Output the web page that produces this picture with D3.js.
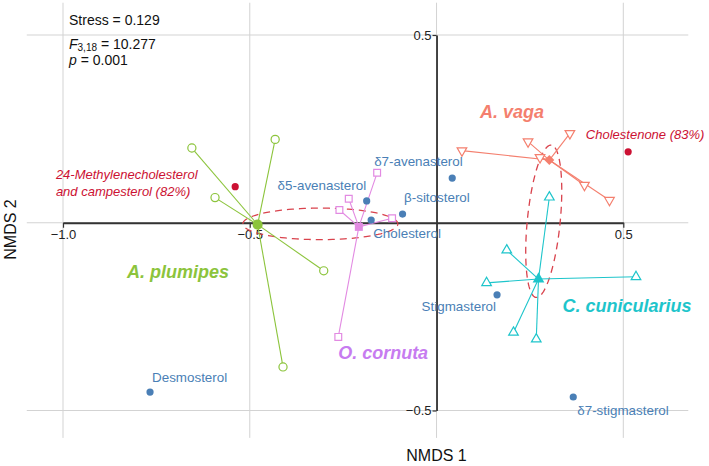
<!DOCTYPE html>
<html><head><meta charset="utf-8">
<script src="https://cdn.jsdelivr.net/npm/d3@7"></script>
<style>
body{margin:0;background:#fff}
svg{display:block;font-family:"Liberation Sans",Arial,Helvetica,sans-serif}
</style>
</head><body>
<svg id="chart" width="709" height="466"></svg>
<script>
// ---------------- data ----------------
const groups = ["A. plumipes", "O. cornuta", "A. vaga", "C. cunicularius"];

const plumipesNMDS1 = [-0.655, -0.432, -0.593, -0.302, -0.411];
const plumipesNMDS2 = [0.199, 0.222, 0.067, -0.128, -0.384];

const cornutaNMDS1 = [-0.159, -0.235, -0.260, -0.119, -0.263];
const cornutaNMDS2 = [0.133, 0.064, 0.034, 0.012, -0.304];

const vagaNMDS1 = [0.068, 0.245, 0.357, 0.277, 0.396, 0.463];
const vagaNMDS2 = [0.192, 0.216, 0.238, 0.174, 0.100, 0.060];

const cunicNMDS1 = [0.302, 0.188, 0.134, 0.534, 0.206, 0.267];
const cunicNMDS2 = [0.068, -0.073, -0.160, -0.144, -0.292, -0.310];

const centroidNMDS1 = [-0.479, -0.208, 0.302, 0.273];
const centroidNMDS2 = [-0.005, -0.011, 0.167, -0.150];

const sterols = ["δ5-avenasterol", "Cholesterol", "β-sitosterol", "δ7-avenasterol",
                 "Stigmasterol", "Desmosterol", "δ7-stigmasterol"];
const sterolNMDS1 = [-0.187, -0.175, -0.091, 0.042, 0.162, -0.767, 0.366];
const sterolNMDS2 = [0.058, 0.007, 0.023, 0.119, -0.192, -0.451, -0.464];

const indicators = [["24-Methylenecholesterol", "and campesterol (82%)"], ["Cholestenone (83%)"]];
const indicatorNMDS1 = [-0.539, 0.513];
const indicatorNMDS2 = [0.096, 0.189];

// confidence ellipses (centre, semi-axes, angle in degrees)
const ellipseCX = [-0.311, 0.287];
const ellipseCY = [-0.003, 0.004];
const ellipseA = [0.2075, 0.204];
const ellipseB = [0.042, 0.044];
const ellipseAngle = [0, 84.3];

const xTicks = [-1.0, -0.5, 0.5];
const yTicks = [-0.5, 0.5];
const statLines = ["Stress = 0.129", "F|3,18| = 10.277", "p = 0.001"];

// ---------------- layout / style ----------------
const W = 709, H = 466;
const xLim = [-1.097, 0.674], yLim = [-0.573, 0.586];
const x = d3.scaleLinear().domain([-1, 0.5]).range([63, 623.3]);
const y = d3.scaleLinear().domain([-0.5, 0.5]).range([410.5, 35]);

const colors = {
  green: "#8cc43c", pink: "#e28ae2", pinkLabel: "#c77cf0",
  orange: "#f47f6e", cyan: "#1ec5cb", red: "#cc1133", blue: "#4a7fb6",
  ellipse: "#d9434d", grid: "#d3d3d3", axis: "#333"
};
const groupColor = [colors.green, colors.pink, colors.orange, colors.cyan];
const groupLabelColor = [colors.green, colors.pinkLabel, colors.orange, colors.cyan];
const groupLabelOffset = [[-130.7, 53.5], [-20.7, 132.3], [-69.3, -41.7], [24, 32.7]];
const sterolLabelOffset = [[-0.5, -11, "end"], [2, 17.5, "start"], [1.5, -12, "start"],
  [10.5, -12, "end"], [-1, 16, "end"], [2, -10, "start"], [4, 18.5, "start"]];
const indicatorLabelOffset = [[-179.3, -7.5], [-42.3, -12.7]];

const svg = d3.select("#chart");

// grid
const grid = svg.append("g");
[-1, -0.5, 0, 0.5].forEach(v => {
  grid.append("line").attr("x1", x(v)).attr("x2", x(v))
    .attr("y1", y(yLim[1])).attr("y2", y(yLim[0]))
    .attr("stroke", colors.grid).attr("stroke-width", 1);
});
[-0.5, 0, 0.5].forEach(v => {
  grid.append("line").attr("y1", y(v)).attr("y2", y(v))
    .attr("x1", x(xLim[0])).attr("x2", x(xLim[1]))
    .attr("stroke", colors.grid).attr("stroke-width", 1);
});

// axes
const fmt = d3.format(".1f");
const xAxis = svg.append("g").attr("transform", `translate(0,${y(0)})`)
  .call(d3.axisBottom(x).tickValues(xTicks).tickFormat(fmt).tickSize(5).tickSizeOuter(0).tickPadding(2));
const yAxis = svg.append("g").attr("transform", `translate(${x(0)},0)`)
  .call(d3.axisLeft(y).tickValues(yTicks).tickFormat(fmt).tickSize(4).tickSizeOuter(0).tickPadding(1));
[xAxis, yAxis].forEach(a => {
  a.select(".domain").attr("stroke", colors.axis).attr("stroke-width", 1.8);
  a.selectAll(".tick line").attr("stroke", colors.axis).attr("stroke-width", 1.2);
  a.selectAll("text").attr("font-size", 13).attr("fill", "#222")
    .attr("font-family", '"Liberation Sans",Arial,sans-serif');
});

// ellipses
const ell = svg.append("g");
ellipseCX.forEach((cx, i) => {
  const th = ellipseAngle[i] * Math.PI / 180;
  const pts = d3.range(0, 361, 3).map(d => {
    const t = d * Math.PI / 180;
    const ex = ellipseA[i] * Math.cos(t), ey = ellipseB[i] * Math.sin(t);
    return [cx + ex * Math.cos(th) - ey * Math.sin(th), ellipseCY[i] + ex * Math.sin(th) + ey * Math.cos(th)];
  });
  ell.append("path").attr("d", d3.line().x(p => x(p[0])).y(p => y(p[1]))(pts))
    .attr("fill", "none").attr("stroke", colors.ellipse).attr("stroke-width", 1.3)
    .attr("stroke-dasharray", "7,5");
});

// groups
const samplesX = [plumipesNMDS1, cornutaNMDS1, vagaNMDS1, cunicNMDS1];
const samplesY = [plumipesNMDS2, cornutaNMDS2, vagaNMDS2, cunicNMDS2];
const openSym = [
  d3.symbol().type(d3.symbolCircle).size(52),
  d3.symbol().type(d3.symbolSquare).size(46),
  d3.symbol().type(d3.symbolTriangle).size(40),
  d3.symbol().type(d3.symbolTriangle).size(40)
];
const openRot = [0, 0, 180, 0];
const filledSym = [
  d3.symbol().type(d3.symbolCircle).size(80),
  d3.symbol().type(d3.symbolSquare).size(64),
  d3.symbol().type(d3.symbolSquare).size(50),
  d3.symbol().type(d3.symbolTriangle).size(60)
];
const filledRot = [0, 0, 45, 0];

groups.forEach((g, gi) => {
  const layer = svg.append("g");
  const cx = x(centroidNMDS1[gi]), cy = y(centroidNMDS2[gi]);
  samplesX[gi].forEach((sx, k) => {
    layer.append("line").attr("x1", cx).attr("y1", cy)
      .attr("x2", x(sx)).attr("y2", y(samplesY[gi][k]))
      .attr("stroke", groupColor[gi]).attr("stroke-width", 1.1);
  });
  samplesX[gi].forEach((sx, k) => {
    layer.append("path").attr("d", openSym[gi]())
      .attr("transform", `translate(${x(sx)},${y(samplesY[gi][k])}) rotate(${openRot[gi]})`)
      .attr("fill", "#fff").attr("stroke", groupColor[gi]).attr("stroke-width", 1.2);
  });
  layer.append("path").attr("d", filledSym[gi]())
    .attr("transform", `translate(${cx},${cy}) rotate(${filledRot[gi]})`)
    .attr("fill", groupColor[gi]);
  svg.append("text").attr("x", cx + groupLabelOffset[gi][0]).attr("y", cy + groupLabelOffset[gi][1])
    .attr("font-size", 18).attr("font-weight", "bold").attr("font-style", "italic")
    .attr("fill", groupLabelColor[gi]).text(g);
});

// sterol vectors (points)
sterols.forEach((s, i) => {
  const px = x(sterolNMDS1[i]), py = y(sterolNMDS2[i]);
  svg.append("circle").attr("cx", px).attr("cy", py).attr("r", 3.6).attr("fill", colors.blue);
  const o = sterolLabelOffset[i];
  svg.append("text").attr("x", px + o[0]).attr("y", py + o[1]).attr("text-anchor", o[2])
    .attr("font-size", 13.4).attr("fill", colors.blue).text(s);
});

// indicator sterols
indicators.forEach((lines, i) => {
  const px = x(indicatorNMDS1[i]), py = y(indicatorNMDS2[i]);
  svg.append("circle").attr("cx", px).attr("cy", py).attr("r", 3.6).attr("fill", colors.red);
  const t = svg.append("text").attr("x", px + indicatorLabelOffset[i][0]).attr("y", py + indicatorLabelOffset[i][1])
    .attr("font-size", 13).attr("font-style", "italic").attr("fill", colors.red);
  lines.forEach((l, k) => {
    t.append("tspan").attr("x", px + indicatorLabelOffset[i][0]).attr("dy", k === 0 ? 0 : 17).text(l);
  });
});

// statistics text
const st = svg.append("g").attr("font-size", 14).attr("fill", "#111");
st.append("text").attr("x", 69).attr("y", 25).text(statLines[0]);
const fParts = statLines[1].split("|");
const ft = st.append("text").attr("x", 69).attr("y", 49);
ft.append("tspan").attr("font-style", "italic").text(fParts[0]);
ft.append("tspan").attr("font-size", 10).attr("dy", 2).text(fParts[1]);
ft.append("tspan").attr("dy", -2).text(fParts[2]);
const pt = st.append("text").attr("x", 69).attr("y", 64.5);
pt.append("tspan").attr("font-style", "italic").text(statLines[2].slice(0, 1));
pt.append("tspan").text(statLines[2].slice(1));

// axis titles
svg.append("text").attr("x", x(0)).attr("y", 461).attr("text-anchor", "middle")
  .attr("font-size", 16).attr("fill", "#111").text("NMDS 1");
svg.append("text").attr("transform", `translate(16,${229.5}) rotate(-90)`).attr("text-anchor", "middle")
  .attr("font-size", 16).attr("fill", "#111").text("NMDS 2");
</script>
</body></html>
